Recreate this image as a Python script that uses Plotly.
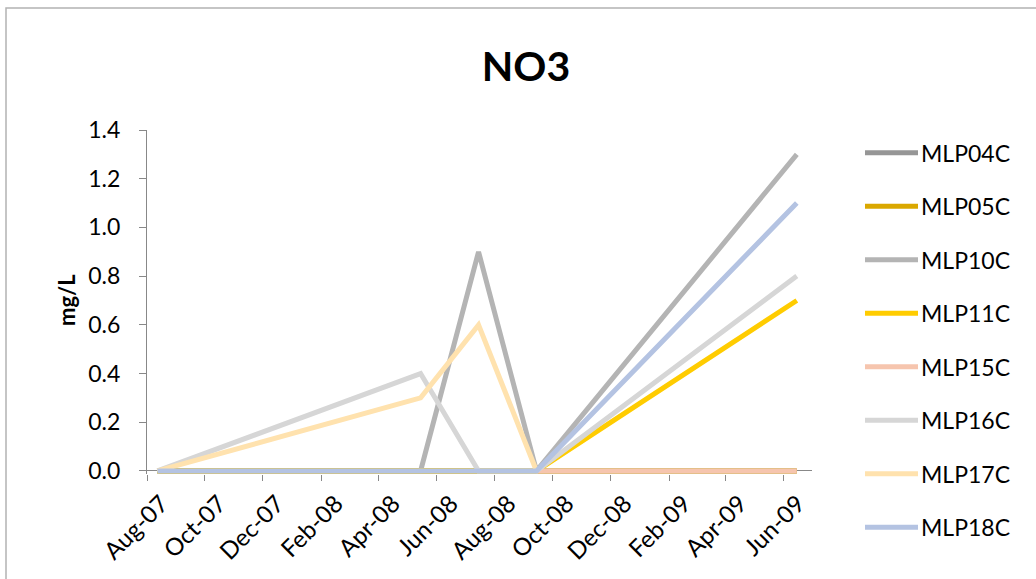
import plotly.graph_objects as go

# ---- data ----
dates = ["2007-08-12", "2008-05-15", "2008-07-15", "2008-09-14", "2009-06-15"]
series_names = ["MLP04C", "MLP05C", "MLP10C", "MLP11C", "MLP15C", "MLP16C", "MLP17C", "MLP18C"]
mlp04c = [0, 0, 0, 0, 0]
mlp05c = [0, 0, 0, 0, 0]
mlp10c = [0, 0, 0.9, 0, 1.3]
mlp11c = [0, 0, 0, 0, 0.7]
mlp15c = [None, None, None, 0, 0]
mlp16c = [0, 0.4, 0, 0, 0.8]
mlp17c = [0, 0.3, 0.6, 0, None]
mlp18c = [0, 0, 0, 0, 1.1]
series_values = [mlp04c, mlp05c, mlp10c, mlp11c, mlp15c, mlp16c, mlp17c, mlp18c]
colors = ["#969696", "#DAA800", "#B4B4B4", "#FFCC00", "#F6C5AE", "#D6D6D6", "#FFE2AE", "#B4C3E2"]

tick_months = ["2007-08", "2007-10", "2007-12", "2008-02", "2008-04", "2008-06",
               "2008-08", "2008-10", "2008-12", "2009-02", "2009-04", "2009-06"]
tick_labels = ["Aug-07", "Oct-07", "Dec-07", "Feb-08", "Apr-08", "Jun-08",
               "Aug-08", "Oct-08", "Dec-08", "Feb-09", "Apr-09", "Jun-09"]

FONT = "Lato"
W, H = 1036, 579
L, R, T, B = 147, 224, 130, 105
PW, PH = W - L - R, H - T - B


def px_x(px):
    return (px - L) / PW


def px_y(py):
    return (H - B - py) / PH


fig = go.Figure()
for name, vals, col in zip(series_names, series_values, colors):
    fig.add_trace(go.Scatter(
        x=dates, y=vals, name=name, mode="lines",
        line=dict(color=col, width=5), connectgaps=False,
        showlegend=False, cliponaxis=False,
    ))

# manual legend
shapes = []
annotations = []
for i, (name, col) in enumerate(zip(series_names, colors)):
    yy = px_y(152.7 + 53.5 * i)
    shapes.append(dict(type="line", xref="paper", yref="paper",
                       x0=px_x(865), x1=px_x(918), y0=yy, y1=yy,
                       line=dict(color=col, width=5)))
    annotations.append(dict(xref="paper", yref="paper", x=px_x(919), y=yy,
                            text=name, showarrow=False, xanchor="left", yanchor="middle",
                            font=dict(family=FONT, size=23, color="#000000")))

# chart border
shapes.append(dict(type="rect", xref="paper", yref="paper",
                   x0=px_x(6), x1=1.6, y0=-1, y1=px_y(8),
                   line=dict(color="#B3B3B3", width=1.5), layer="below"))

# y-axis title
annotations.append(dict(xref="paper", yref="paper", x=px_x(66), y=px_y(300),
                        text="<b>mg/L</b>", textangle=-90, showarrow=False,
                        xanchor="center", yanchor="middle",
                        font=dict(family=FONT, size=22, color="#000000")))

fig.update_layout(
    width=W, height=H,
    margin=dict(l=L, r=R, t=T, b=B, autoexpand=False),
    paper_bgcolor="white", plot_bgcolor="white",
    title=dict(text="<b>NO3</b>", x=526 / W, xref="container", xanchor="center",
               y=1 - 67 / H, yref="container", yanchor="middle",
               font=dict(family=FONT, size=41, color="#000000")),
    font=dict(family=FONT, size=23, color="#000000"),
    shapes=shapes, annotations=annotations,
    showlegend=False,
)

fig.update_xaxes(
    type="date", range=["2007-08-01", "2009-07-01"],
    tickvals=[m + "-16" for m in tick_months], ticktext=tick_labels,
    tickangle=-45, ticks="", showgrid=False, showline=False, zeroline=False,
    tickfont=dict(family=FONT, size=24, color="#000000"),
    ticklabelstandoff=10,
    minor=dict(ticks="outside", ticklen=6, tickcolor="#888888", tickwidth=1,
               dtick="M2", tick0="2007-08-01", showgrid=False),
)
fig.update_yaxes(
    range=[-0.0125, 1.4], tickvals=[0, 0.2, 0.4, 0.6, 0.8, 1.0, 1.2, 1.4],
    tickformat=".1f", ticks="outside", ticklen=7, tickcolor="#888888",
    showline=True, linecolor="#888888", linewidth=1, showgrid=False,
    zeroline=True, zerolinecolor="#888888", zerolinewidth=1,
    tickfont=dict(family=FONT, size=23, color="#000000"),
    ticklabelstandoff=14,
)

fig.write_html("out.html", config={"displayModeBar": False},
               post_script="document.body.style.margin='0';document.body.style.overflow='hidden';")
